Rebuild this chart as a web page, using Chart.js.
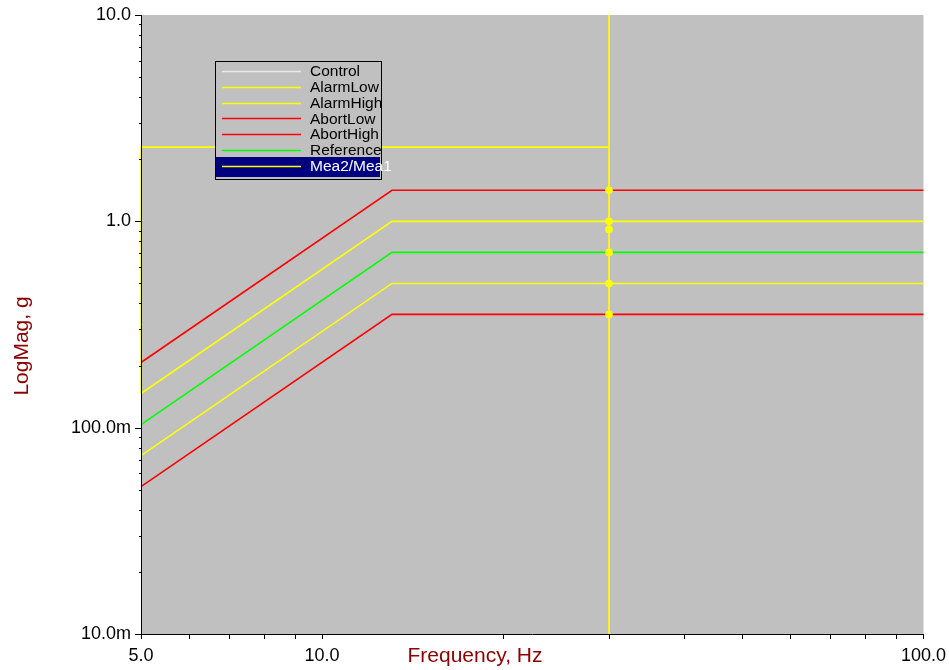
<!DOCTYPE html>
<html>
<head>
<meta charset="utf-8">
<title>LogMag vs Frequency</title>
<script src="https://cdn.jsdelivr.net/npm/chart.js@4/dist/chart.umd.min.js"></script>
<style>
  html, body { margin: 0; padding: 0; background: #ffffff; }
  #wrap { position: relative; width: 949px; height: 670px; }
</style>
</head>
<body>
<div id="wrap"><canvas id="profileChart" width="949" height="670"></canvas></div>
<script>
// --- data ---
const profileFreq = [5, 13.07, 100];
const referenceLevel = [0.1035, 0.707, 0.707];
const alarmLowLevel = [0.0732, 0.5, 0.5];
const alarmHighLevel = [0.1464, 1.0, 1.0];
const abortLowLevel = [0.0518, 0.354, 0.354];
const abortHighLevel = [0.207, 1.414, 1.414];
const controlLevel = [];

const meaFreq = [5, 5, 30];
const meaLevel = [0.1464, 2.29, 2.29];

const cursorFreq = [30, 30];
const cursorLevel = [0.01, 10];
const cursorHitLevel = [1.414, 1.0, 0.914, 0.707, 0.5, 0.354];

const xTickValues = [5, 6, 7, 8, 9, 10, 20, 30, 40, 50, 60, 70, 80, 90, 100];
const xTickLabels = { 5: "5.0", 10: "10.0", 100: "100.0" };
const yTickValues = [0.01, 0.02, 0.03, 0.04, 0.05, 0.06, 0.07, 0.08, 0.09,
                     0.1, 0.2, 0.3, 0.4, 0.5, 0.6, 0.7, 0.8, 0.9,
                     1, 2, 3, 4, 5, 6, 7, 8, 9, 10];
const yTickLabels = { 0.01: "10.0m", 0.1: "100.0m", 1: "1.0", 10: "10.0" };

const xTitle = "Frequency, Hz";
const yTitle = "LogMag, g";

// --- helpers ---
const pts = (xs, ys) => ys.map((y, i) => ({ x: xs[i], y: y }));
const isMajor = v => Math.abs(Math.log10(v) - Math.round(Math.log10(v))) < 1e-9;

function lineSet(label, xs, ys, color, order) {
  return {
    label: label, data: pts(xs, ys),
    borderColor: color, backgroundColor: color,
    borderWidth: 1.6, pointRadius: 0, tension: 0,
    clip: 3, order: order, inLegend: true
  };
}

const datasets = [
  lineSet("Control", profileFreq, controlLevel, "#e8e8e8", 5),
  lineSet("AlarmLow", profileFreq, alarmLowLevel, "#ffff00", 5),
  lineSet("AlarmHigh", profileFreq, alarmHighLevel, "#ffff00", 5),
  lineSet("AbortLow", profileFreq, abortLowLevel, "#ff0000", 5),
  lineSet("AbortHigh", profileFreq, abortHighLevel, "#ff0000", 5),
  lineSet("Reference", profileFreq, referenceLevel, "#00ff00", 5),
  lineSet("Mea2/Mea1", meaFreq, meaLevel, "#ffff00", 3),
  {
    label: "cursor", data: pts(cursorFreq, cursorLevel),
    borderColor: "#ffff00", borderWidth: 1.6, pointRadius: 0,
    clip: 3, order: 1, inLegend: false
  },
  {
    label: "cursorHits", data: cursorHitLevel.map(v => ({ x: cursorFreq[0], y: v })),
    showLine: false, pointRadius: 3.8, pointBorderWidth: 0,
    pointBackgroundColor: "#ffff00", clip: 5, order: 0, inLegend: false
  }
];

// --- decorations: plot background, axis lines, tick marks, titles, legend box ---
const decorPlugin = {
  id: "decor",
  beforeDraw(chart) {
    const a = chart.chartArea, ctx = chart.ctx;
    ctx.save();
    ctx.fillStyle = "#c0c0c0";
    ctx.fillRect(a.left, a.top, a.right - a.left, a.bottom - a.top);
    ctx.restore();
  },
  afterDraw(chart) {
    const a = chart.chartArea, ctx = chart.ctx;
    const xs = chart.scales.x, ys = chart.scales.y;
    ctx.save();
    ctx.strokeStyle = "#000000";
    ctx.lineWidth = 1;
    // axis lines
    ctx.beginPath();
    ctx.moveTo(a.left + 0.5, a.top);
    ctx.lineTo(a.left + 0.5, a.bottom + 0.5);
    ctx.lineTo(a.right, a.bottom + 0.5);
    ctx.stroke();
    // tick marks
    ctx.beginPath();
    xTickValues.forEach(v => {
      const px = Math.round(xs.getPixelForValue(v)) + 0.5;
      ctx.moveTo(px, a.bottom);
      ctx.lineTo(px, a.bottom + 5);
    });
    yTickValues.forEach(v => {
      const py = Math.round(ys.getPixelForValue(v)) + 0.5;
      ctx.moveTo(a.left - (isMajor(v) ? 6 : 2), py);
      ctx.lineTo(a.left, py);
    });
    ctx.stroke();

    // axis titles
    ctx.fillStyle = "#8b0000";
    ctx.font = "21px 'Liberation Sans', Arial, sans-serif";
    ctx.textAlign = "center";
    ctx.textBaseline = "middle";
    ctx.fillText(xTitle, 475, 656);
    ctx.translate(22, 346);
    ctx.rotate(-Math.PI / 2);
    ctx.fillText(yTitle, 0, 0);
    ctx.restore();

    // legend box
    const items = chart.data.datasets.filter(d => d.inLegend);
    const box = { x: 215, y: 61, w: 166, h: 118 };
    const rowH = 15.8;
    ctx.save();
    ctx.fillStyle = "#c0c0c0";
    ctx.fillRect(box.x, box.y, box.w, box.h);
    // selected row
    ctx.fillStyle = "#000080";
    ctx.fillRect(box.x + 1, box.y + 96, box.w - 2, 20);
    ctx.strokeStyle = "#000000";
    ctx.lineWidth = 1;
    ctx.strokeRect(box.x + 0.5, box.y + 0.5, box.w, box.h);
    ctx.font = "15.5px 'Liberation Sans', Arial, sans-serif";
    ctx.textBaseline = "middle";
    items.forEach((d, i) => {
      const cy = box.y + 10 + i * rowH;
      ctx.strokeStyle = d.borderColor;
      ctx.lineWidth = 1.5;
      ctx.beginPath();
      ctx.moveTo(222, Math.round(cy) + 0.5);
      ctx.lineTo(301, Math.round(cy) + 0.5);
      ctx.stroke();
      ctx.fillStyle = i === items.length - 1 ? "#ffffff" : "#000000";
      ctx.fillText(d.label, 310, cy + 1);
    });
    ctx.restore();
  }
};

const tickFont = { family: "'Liberation Sans', Arial, sans-serif", size: 18 };

new Chart(document.getElementById("profileChart"), {
  type: "line",
  data: { datasets: datasets },
  options: {
    responsive: false,
    animation: false,
    layout: { padding: { top: 15, right: 23, left: 0, bottom: 0 } },
    plugins: { legend: { display: false }, tooltip: { enabled: false } },
    scales: {
      x: {
        type: "logarithmic", min: 5, max: 100,
        grid: { display: false }, border: { display: false },
        afterBuildTicks: s => { s.ticks = xTickValues.map(v => ({ value: v })); },
        afterFit: s => { s.height = 36; },
        ticks: {
          autoSkip: false, maxRotation: 0, padding: 3, color: "#000000", font: tickFont,
          callback: v => xTickLabels[v] || ""
        }
      },
      y: {
        type: "logarithmic", min: 0.01, max: 10,
        grid: { display: false }, border: { display: false },
        afterBuildTicks: s => { s.ticks = yTickValues.map(v => ({ value: v })); },
        afterFit: s => { s.width = 141; },
        ticks: {
          autoSkip: false, padding: 2, color: "#000000", font: tickFont,
          callback: v => {
            const key = Object.keys(yTickLabels).find(k => Math.abs(k - v) < 1e-9);
            return key ? yTickLabels[key] : "";
          }
        }
      }
    }
  },
  plugins: [decorPlugin]
});
</script>
</body>
</html>
